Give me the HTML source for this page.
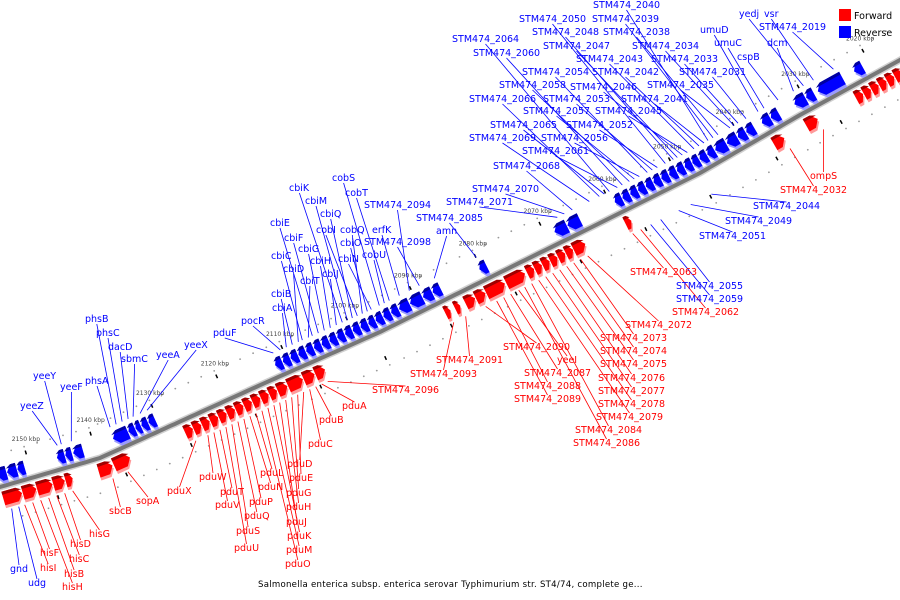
<!DOCTYPE html>
<html><head><meta charset="utf-8"><style>
html,body{margin:0;padding:0;background:#fff;}
svg{display:block;font-family:"DejaVu Sans","Liberation Sans",sans-serif;}
</style></head><body>
<svg id="chart" width="900" height="600" viewBox="0 0 900 600" xmlns="http://www.w3.org/2000/svg">
<g id="bg"></g>
<g id="genes"></g>
<g id="leaders"></g>
<g id="labels"></g>
<g>
<rect x="839" y="9" width="12" height="12" fill="#ff0000"/>
<text x="854" y="19" font-size="9.5" fill="#000">Forward</text>
<rect x="839" y="26" width="12" height="12" fill="#0000ff"/>
<text x="854" y="36" font-size="9.5" fill="#000">Reverse</text>
</g>
<text x="258" y="587" font-size="8.6" fill="#000" letter-spacing="0.25">Salmonella enterica subsp. enterica serovar Typhimurium str. ST4/74, complete ge...</text>
</svg>
<script>
const tickKbp=[2150,2140,2130,2120,2110,2100,2090,2080,2070,2060,2050,2040,2030,2020];
const fwdStart=[2155.1,2152.1,2149.9,2147.4,2145.5,2140.4,2138.3,2127.3,2126.0,2124.7,2123.4,2122.1,2120.8,2119.5,2118.2,2116.9,2115.6,2114.3,2113.0,2111.4,2109.0,2107.2,2087.2,2085.7,2084.1,2082.5,2080.9,2077.8,2074.6,2073.4,2072.2,2071.0,2069.8,2068.6,2067.4,2059.4,2036.6,2031.6,2023.9,2022.7,2021.5,2020.3,2019.1,2017.9];
const fwdEnd=[2152.2,2150.0,2147.5,2145.6,2144.4,2138.5,2135.8,2126.1,2124.8,2123.5,2122.2,2120.9,2119.6,2118.3,2117.0,2115.7,2114.4,2113.1,2111.5,2109.1,2107.3,2105.7,2086.4,2084.9,2082.6,2081.0,2078.0,2074.9,2073.5,2072.3,2071.1,2069.9,2068.7,2067.5,2065.6,2058.5,2035.0,2029.8,2022.8,2021.6,2020.4,2019.2,2018.0,2016.7];
const revStart=[2155.1,2153.5,2151.9,2145.8,2144.5,2143.3,2136.9,2134.5,2133.4,2132.5,2131.4,2111.9,2110.7,2109.5,2108.3,2107.1,2105.9,2104.7,2103.5,2102.3,2101.1,2099.9,2098.7,2097.5,2096.3,2095.1,2093.9,2092.7,2091.0,2089.0,2087.5,2080.3,2068.7,2066.7,2059.4,2058.2,2057.0,2055.8,2054.6,2053.4,2052.2,2051.0,2049.8,2048.6,2047.4,2046.2,2045.0,2043.8,2042.0,2040.3,2039.0,2036.6,2035.2,2031.6,2029.8,2028.0,2022.4];
const revEnd=[2153.6,2152.0,2150.8,2144.6,2143.5,2141.8,2134.6,2133.5,2132.6,2131.5,2130.4,2110.8,2109.6,2108.4,2107.2,2106.0,2104.8,2103.6,2102.4,2101.2,2100.0,2098.8,2097.6,2096.4,2095.2,2094.0,2092.8,2091.1,2089.1,2087.6,2086.3,2079.2,2066.8,2064.8,2058.3,2057.1,2055.9,2054.7,2053.5,2052.3,2051.1,2049.9,2048.7,2047.5,2046.3,2045.1,2043.9,2042.1,2040.4,2039.1,2037.8,2035.3,2034.0,2029.9,2028.6,2024.2,2021.1];
const blueLabels=[["yeeZ",20,409,64],["yeeY",33,379,68],["yeeF",60,390,78],["phsA",85,384,120],["phsB",85,322,126],["phsC",96,336,132],["dacD",108,350,138],["sbmC",121,362,143],["yeeA",156,358,150],["yeeX",184,348,157],["pduF",213,336,283],["pocR",241,324,290],["cbiA",272,311,296],["cbiB",271,297,302],["cbiD",283,272,308],["cbiC",271,259,312],["cbiT",300,284,318],["cbiE",270,226,322],["cbiF",284,241,328],["cbiG",298,252,334],["cbiH",310,264,340],["cbiJ",322,277,346],["cbiK",289,191,352],["cbiM",305,204,357],["cbiQ",320,217,362],["cobI",316,233,367],["cobQ",340,233,372],["cbiO",340,246,377],["cbiN",338,262,382],["cobS",332,181,390],["cobU",362,258,395],["cobT",345,196,400],["erfK",372,233,410],["STM474_2094",364,208,420],["STM474_2098",364,245,430],["amn",436,234,445],["STM474_2085",416,221,487],["STM474_2071",446,205,568],["STM474_2070",472,192,575],["STM474_2068",493,169,583],["STM474_2069",469,141,600],["STM474_2066",469,102,610],["STM474_2065",490,128,615],["STM474_2064",452,42,620],["STM474_2061",522,154,628],["STM474_2060",473,56,633],["STM474_2058",499,88,640],["STM474_2057",523,114,645],["STM474_2056",541,141,650],["STM474_2054",522,75,658],["STM474_2053",543,102,663],["STM474_2052",566,128,668],["STM474_2050",519,22,676],["STM474_2048",532,35,684],["STM474_2047",543,49,688],["STM474_2046",570,90,693],["STM474_2045",595,114,698],["STM474_2043",576,62,706],["STM474_2042",592,75,711],["STM474_2041",621,102,716],["STM474_2040",593,8,720],["STM474_2039",592,22,725],["STM474_2038",603,35,730],["STM474_2035",647,88,742],["STM474_2034",632,49,746],["STM474_2033",651,62,750],["STM474_2031",679,75,758],["umuD",700,33,770],["umuC",714,46,776],["cspB",737,60,790],["dcm",767,46,805],["yedj",739,17,815],["vsr",764,17,825],["STM474_2019",759,30,845],["STM474_2044",753,209,700],["STM474_2049",725,224,680],["STM474_2051",699,239,668],["STM474_2055",676,289,650],["STM474_2059",676,302,640],["gnd",10,572,5],["udg",28,586,12]];
const redLabels=[["ompS",810,179,812],["STM474_2032",780,193,778],["STM474_2063",630,275,622],["STM474_2062",672,315,630],["STM474_2072",625,328,577],["STM474_2073",600,341,570],["STM474_2074",600,354,563],["STM474_2075",600,367,556],["STM474_2076",598,381,549],["STM474_2077",598,394,542],["STM474_2078",598,407,535],["STM474_2079",596,420,528],["STM474_2084",575,433,521],["STM474_2086",573,446,514],["STM474_2090",503,350,475],["yeeI",557,363,508],["STM474_2087",524,376,500],["STM474_2088",514,389,493],["STM474_2089",514,402,486],["STM474_2091",436,363,455],["STM474_2093",410,377,443],["STM474_2096",372,393,318],["pduA",342,409,312],["pduB",319,423,306],["pduC",308,447,300],["pduD",287,467,294],["pduE",289,481,288],["pduG",286,496,282],["pduH",286,510,276],["pduJ",286,525,270],["pduK",287,539,264],["pduM",286,553,258],["pduO",285,567,252],["pduL",260,476,246],["pduN",258,490,240],["pduP",249,505,234],["pduQ",244,519,228],["pduS",236,534,222],["pduU",234,551,216],["pduT",220,495,210],["pduV",215,508,204],["pduW",199,480,198],["pduX",167,494,186],["sopA",136,504,118],["sbcB",109,514,103],["hisG",89,537,66],["hisD",70,547,58],["hisC",69,562,50],["hisB",64,577,42],["hisH",62,590,34],["hisF",40,556,26],["hisI",40,571,18]];
const NS="http://www.w3.org/2000/svg";
const anchorsX=[0,100,267,380,600,700,800,900];
const anchorsY=[487,458,382,332,223,173,115,60];
function xOf(k){return (2155.1-k)*6.48;}
function yOf(x){
  if(x<=0){return anchorsY[0]+(anchorsY[1]-anchorsY[0])/100*x;}
  for(let i=0;i<anchorsX.length-1;i++){
    if(x<=anchorsX[i+1]){const t=(x-anchorsX[i])/(anchorsX[i+1]-anchorsX[i]);return anchorsY[i]+t*(anchorsY[i+1]-anchorsY[i]);}
  }
  return anchorsY[7]+(anchorsY[7]-anchorsY[6])/100*(x-900);
}
function pt(x,v){
  const s=(yOf(x+1)-yOf(x-1))/2;const l=Math.hypot(1,s);
  const nx=-s/l, ny=1/l;
  return [x+nx*v,yOf(x)+ny*v];
}
function mk(tag,attrs,parent){const e=document.createElementNS(NS,tag);for(const k in attrs)e.setAttribute(k,attrs[k]);parent.appendChild(e);return e;}
const bg=document.getElementById('bg');
// backbone
let d="";for(let x=-5;x<=905;x+=5){d+=(x===-5?"M":"L")+x+","+yOf(x).toFixed(1);}
const bb1=mk('path',{d:d,stroke:'#d0d0d0',"stroke-width":7,fill:'none'},bg);


const bb2=mk('path',{d:d,stroke:'#777',"stroke-width":4,fill:'none'},bg);


// dots & ticks
for(let k=2154;k>=2016;k-=2){
  const x=xOf(k);
  const a=pt(x,-32),b=pt(x+6,34);
  const d1=mk('circle',{cx:a[0].toFixed(1),cy:a[1].toFixed(1),r:0.9,fill:'#999'},bg);
  
  
  const d2=mk('circle',{cx:b[0].toFixed(1),cy:b[1].toFixed(1),r:0.9,fill:'#999'},bg);
  
  
}
tickKbp.forEach(k=>{
  const x=xOf(k);
  const a=pt(x,-24),b=pt(x,-28);
  const tk=mk('line',{x1:a[0],y1:a[1],x2:b[0],y2:b[1],stroke:'#000',"stroke-width":1.5},bg);
  
  
  const c=pt(x+18,24),e=pt(x+18,28);
  const tk2=mk('line',{x1:c[0],y1:c[1],x2:e[0],y2:e[1],stroke:'#000',"stroke-width":1.5},bg);
  
  
  const p=pt(x,-40);
  const t=mk('text',{x:(p[0]+4).toFixed(1),y:(p[1]+2).toFixed(1),"font-size":6,"text-anchor":"middle",fill:'#444'},bg);
  t.textContent=k+" kbp";
  
  
});
// genes
const gg=document.getElementById('genes');
function gene(s,e,fwd){
  const x0=Math.min(xOf(s),xOf(e)),x1=Math.max(xOf(s),xOf(e));
  const a=Math.min(5,(x1-x0)*0.5);
  const v1=fwd?5:-19,v2=fwd?19:-5,vm=(v1+v2)/2;
  let poly;
  if(fwd){poly=[[x0,v1],[x1-a,v1],[x1,vm],[x1-a,v2],[x0,v2]];}
  else{poly=[[x0+a,v1],[x1,v1],[x1,v2],[x0+a,v2],[x0,vm]];}
  const g=mk('g',{},gg);
  
  
  const cols=fwd?['#ff9a9a','#ff0000','#a00000']:['#9a9aff','#0000ff','#0000a0'];
  [[3,cols[0]],[0,cols[1]]].forEach(([off,c])=>{
    const pts=poly.map(([x,v])=>{const p=pt(x,v+off);return p[0].toFixed(1)+","+p[1].toFixed(1);}).join(" ");
    mk('polygon',{points:pts,fill:c},g);
  });
  const top=poly.map(([x,v])=>{const vv=fwd?(v===v2?v1+3:v):(v===v2?v1+3:v);const p=pt(x,Math.min(vv,v1+3));return p[0].toFixed(1)+","+p[1].toFixed(1);}).join(" ");
  mk('polygon',{points:top,fill:cols[2]},g);
}
revStart.forEach((s,i)=>gene(s,revEnd[i],false));
fwdStart.forEach((s,i)=>gene(s,fwdEnd[i],true));
// labels
const lg=document.getElementById('labels'),ll=document.getElementById('leaders');
function label(arr,color){
  arr.forEach(([txt,x,y,tx])=>{
    const t=mk('text',{x:x,y:y,"font-size":9.5,fill:color},lg);
    t.textContent=txt;
    
    
    const bb=t.getBBox();
    const below=y>yOf(x+bb.width/2);
    const tp=pt(tx,below?24:-24);
    const sx=bb.x+bb.width/2;
    const sy=tp[1]<y?bb.y+1:bb.y+bb.height-1;
    const ln=mk('line',{x1:sx.toFixed(1),y1:sy.toFixed(1),x2:tp[0].toFixed(1),y2:tp[1].toFixed(1),stroke:color,"stroke-width":0.8},ll);
    
    
  });
}
label(blueLabels,'#0000ff');
label(redLabels,'#ff0000');
</script>
</body></html>
